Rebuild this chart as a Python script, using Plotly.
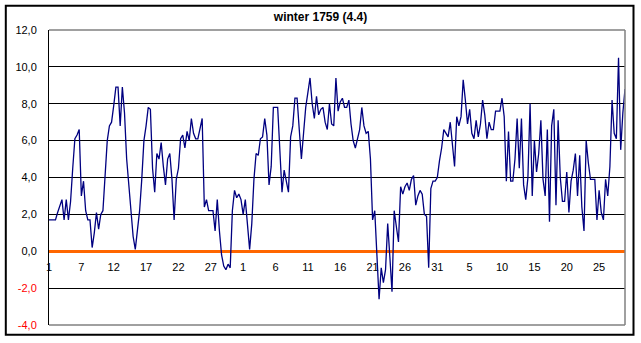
import plotly.graph_objects as go

# Temperature readings (about three per day), winter 1759: December, January, February
temps = [
    1.7, 1.7, 1.7, 1.7, 2.1, 2.5, 2.8, 1.7, 2.8, 1.7,
    2.7, 4.5, 6.1, 6.3, 6.6, 3.0, 3.8, 2.2, 1.7, 1.7,
    0.2, 1.0, 2.1, 1.2, 2.0, 2.2, 3.9, 6.0, 6.8, 7.0,
    7.9, 8.9, 8.9, 6.8, 8.9, 7.5, 5.0, 3.5, 2.0, 0.8,
    0.1, 1.1, 2.2, 3.9, 6.0, 6.8, 7.8, 7.7, 4.5, 3.2,
    5.3, 5.0, 5.9, 4.6, 3.6, 5.0, 5.3, 3.9, 1.7, 3.9,
    4.5, 6.1, 6.3, 5.6, 6.5, 6.0, 7.2, 6.4, 6.1, 6.1,
    6.7, 7.2, 2.4, 2.8, 2.2, 2.2, 2.2, 1.1, 2.8, 1.1,
    -0.2, -0.8, -1.0, -0.7, -0.9, 2.2, 3.3, 2.9, 3.1, 2.8,
    2.0, 2.8, 1.3, 0.1, 1.5, 3.9, 5.3, 5.2, 6.1, 6.2,
    7.2, 6.3, 3.6, 4.6, 7.8, 7.8, 7.8, 5.5, 3.2, 4.4,
    3.7, 3.2, 6.2, 6.8, 8.3, 8.3, 6.6, 5.0, 6.4, 7.8,
    8.6, 9.4, 8.0, 7.2, 8.4, 7.4, 7.7, 7.8, 7.0, 6.6,
    8.0, 6.9, 6.8, 9.4, 7.6, 8.1, 8.3, 7.8, 7.8, 8.2,
    6.9, 6.0, 5.6, 6.2, 6.6, 7.8, 6.8, 6.4, 6.5, 5.0,
    1.7, 2.2, -0.5, -2.6, -0.9, -1.7, -1.0, 1.5, -0.3, -2.2,
    2.2, 1.3, 0.5, 3.5, 3.1, 3.5, 3.7, 3.3, 3.9, 4.1,
    2.5, 3.0, 3.3, 3.1, 2.0, 1.9, -0.9, 3.4, 3.8, 3.8,
    4.0, 4.9, 5.6, 6.6, 6.4, 6.2, 7.0, 5.8, 4.6, 7.3,
    6.8, 7.3, 9.3, 8.2, 6.9, 7.7, 6.4, 6.1, 7.1, 6.2,
    6.9, 8.2, 7.4, 6.1, 7.0, 6.6, 6.6, 7.6, 7.6, 7.6,
    8.3, 7.3, 3.8, 6.5, 3.8, 3.8, 5.0, 7.2, 4.5, 7.2,
    3.6, 2.8, 4.0, 8.0, 3.0, 6.0, 4.3, 5.3, 7.1, 3.9,
    3.0, 6.6, 1.6, 6.8, 7.7, 2.5, 7.1, 4.0, 2.7, 2.7,
    4.3, 2.1, 3.8, 4.4, 5.3, 3.0, 5.2, 2.4, 1.1, 6.0,
    4.8, 3.9, 3.9, 3.9, 1.7, 3.3, 2.1, 1.7, 3.9, 3.0,
    4.6, 8.2, 6.4, 6.1, 10.5, 5.5, 7.5, 8.8,
]

# Day-of-month labels shown every 15 readings
day_labels = ["1", "7", "12", "17", "22", "27", "1", "6", "11", "16",
              "21", "26", "31", "5", "10", "15", "20", "25"]
label_step = 15

y_ticks = [-4, -2, 0, 2, 4, 6, 8, 10, 12]
title_text = "winter 1759 (4.4)"

n = len(temps)
obs = list(range(n))
tick_pos = [i * label_step for i in range(len(day_labels))]


def fmt(v):
    s = f"{v:.1f}".replace(".", ",")
    if v < 0:
        return f'<span style="color:#FF0000">{s}</span>'
    return s


FONT = "Liberation Sans, Arial, sans-serif"

fig = go.Figure()
fig.add_trace(go.Scatter(
    x=obs, y=temps, mode="lines",
    line=dict(color="#000080", width=1.3),
    hoverinfo="skip", showlegend=False,
))

fig.update_layout(
    width=641, height=343,
    margin=dict(l=49, r=16, t=30, b=16, pad=0),
    paper_bgcolor="white", plot_bgcolor="white",
    showlegend=False,
    title=dict(
        text=f"<b>{title_text}</b>",
        font=dict(family=FONT, size=12, color="black"),
        x=0.5, xref="container", xanchor="center",
        y=1 - 16.5 / 343, yref="container", yanchor="middle",
    ),
    xaxis=dict(
        range=[0, n - 1],
        anchor="free", position=0.25,
        showline=True, linecolor="#FF6600", linewidth=3,
        tickmode="array", tickvals=tick_pos, ticktext=day_labels,
        ticks="outside", ticklen=5, tickcolor="rgba(0,0,0,0)",
        showgrid=False, zeroline=False,
        tickfont=dict(family=FONT, size=11, color="black"),
        layer="below traces",
    ),
    yaxis=dict(
        range=[-4, 12], domain=[0, 1],
        tickmode="array", tickvals=y_ticks, ticktext=[fmt(v) for v in y_ticks],
        showgrid=True, gridcolor="black", gridwidth=1,
        zeroline=False,
        showline=True, linecolor="black", linewidth=1,
        ticks="outside", ticklen=9, tickcolor="rgba(0,0,0,0)",
        tickfont=dict(family=FONT, size=11, color="black"),
    ),
)

gray = dict(color="#808080", width=1.5)
fig.add_shape(type="line", xref="paper", yref="paper", x0=0, x1=1, y0=1, y1=1, line=gray, layer="above")
fig.add_shape(type="line", xref="paper", yref="paper", x0=0, x1=1, y0=0, y1=0, line=gray, layer="above")
fig.add_shape(type="line", xref="paper", yref="paper", x0=1, x1=1, y0=0, y1=1, line=gray, layer="above")

# outer chart border
pw, ph = 576.0, 297.0
fig.add_shape(
    type="rect", xref="paper", yref="paper",
    x0=(5.8 - 49) / pw, x1=(633.5 - 49) / pw,
    y0=(327 - 336.7) / ph, y1=(327 - 5.5) / ph,
    line=dict(color="black", width=2), layer="above",
)

fig.write_html(
    "out.html",
    config={"displayModeBar": False, "staticPlot": True},
    post_script="document.body.style.margin='0';document.body.style.padding='0';",
)
